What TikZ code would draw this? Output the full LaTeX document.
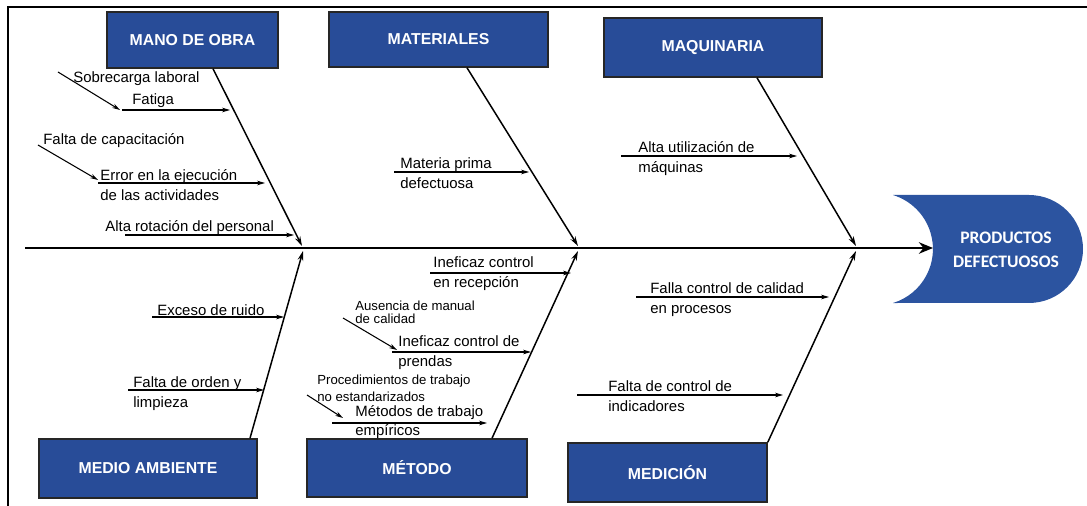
\documentclass[tikz,border=0pt]{standalone}
\usepackage{fontspec}
\setmainfont{Liberation Sans}
\newfontfamily\headfont{Carlito}
\usetikzlibrary{arrows.meta,calc}
\definecolor{catblue}{RGB}{40,76,152}
\definecolor{headblue}{RGB}{44,84,160}

\begin{document}
\begin{tikzpicture}[x=0.02cm,y=-0.02cm,
  catbox/.style={draw=black!85, line width=0.9pt, fill=catblue, text=white,
    font=\bfseries\fontsize{9}{11}\selectfont, inner sep=0pt},
  bone/.style={line width=0.85pt, -{Stealth[length=5.5pt,width=3.2pt]}},
  twig/.style={line width=0.6pt, -{Stealth[length=4.5pt,width=2.6pt]}},
  cause/.style={anchor=west, inner sep=0pt, align=left,
    font=\fontsize{8.5}{11.3}\selectfont},
  subcause/.style={anchor=west, inner sep=0pt, align=left,
    font=\fontsize{7.5}{7.6}\selectfont},
]
\useasboundingbox (0,0) rectangle (1087,506);

% frame
\draw[line width=1pt] (8,506) -- (8,7) -- (1087,7);

% head of the fish
\fill[headblue] (893,195) -- (1029,195) arc[start angle=90,end angle=-90,radius=1.08cm]
  -- (893,303) arc[start angle=-73,end angle=73,radius=1.129cm] -- cycle;
\node[font=\headfont\bfseries\fontsize{10}{13.5}\selectfont, text=white, align=center]
  (head) at (1006,250) {PRODUCTOS\\DEFECTUOSOS};

% spine
\coordinate (tail) at (25,248);
\coordinate (tip) at (933,248);
\draw[line width=1.7pt, -{Stealth[length=8pt,width=6.5pt]}] (tail) -- (tip);

% category boxes
\node[catbox, minimum width=3.42cm, minimum height=1.12cm] (mo)  at (192.5,40)  {MANO DE OBRA};
\node[catbox, minimum width=4.38cm, minimum height=1.10cm] (mat) at (438.5,39.5) {MATERIALES};
\node[catbox, minimum width=4.36cm, minimum height=1.18cm] (maq) at (713,47.5)  {MAQUINARIA};
\node[catbox, minimum width=4.36cm, minimum height=1.18cm] (ma)  at (148,468.5) {MEDIO AMBIENTE};
\node[catbox, minimum width=4.40cm, minimum height=1.16cm] (met) at (417,468)   {MÉTODO};
\node[catbox, minimum width=3.98cm, minimum height=1.18cm] (med) at (667.5,472.5) {MEDICIÓN};

% points where the bones meet the spine
\coordinate (moEnd)  at (302,246);
\coordinate (matEnd) at (578,246);
\coordinate (maqEnd) at (856,246);
\coordinate (maEnd)  at (303,251);
\coordinate (metEnd) at (578,251);
\coordinate (medEnd) at (856,251);

% bones
\draw[bone] ($(mo.south)+(20.5,0)$) -- (moEnd);
\draw[bone] ($(mat.south)+(28.5,0)$) -- (matEnd);
\draw[bone] ($(maq.south)+(44,0)$) -- (maqEnd);
\draw[bone] ($(ma.north)+(102,0)$) -- (maEnd);
\draw[bone] ($(met.north)+(75,0)$) -- (metEnd);
\draw[bone] (med.north east) -- (medEnd);

% Mano de obra
\node[cause] (c1) at (73,79) {Sobrecarga laboral};
\node[cause] (c2) at (132,101) {Fatiga};
\node[cause] (c3) at (43,141) {Falta de capacitación};
\node[cause] (c4) at (100,185.5) {Error en la ejecución\\de las actividades};
\node[cause] (c5) at (105,228) {Alta rotación del personal};
\coordinate (a1s) at (58,72);   \coordinate (a1e) at (120,110);
\coordinate (a2s) at (122,110); \coordinate (a2e) at (230,110);
\coordinate (a3s) at (38,145);  \coordinate (a3e) at (98,180);
\coordinate (a4s) at (98,183);  \coordinate (a4e) at (265,183);
\coordinate (a5s) at (125,235); \coordinate (a5e) at (294,235);
\draw[twig] (a1s) -- (a1e);
\draw[twig] (a2s) -- (a2e);
\draw[twig] (a3s) -- (a3e);
\draw[twig] (a4s) -- (a4e);
\draw[twig] (a5s) -- (a5e);

% Materiales
\node[cause] (c6) at (400,173) {Materia prima\\defectuosa};
\coordinate (a6s) at (394,172); \coordinate (a6e) at (529,172);
\draw[twig] (a6s) -- (a6e);

% Maquinaria
\node[cause] (c7) at (638,158.5) {Alta utilización de\\máquinas};
\coordinate (a7s) at (621,156); \coordinate (a7e) at (797,156);
\draw[twig] (a7s) -- (a7e);

% Medio ambiente
\node[cause] (c8) at (157,310) {Exceso de ruido};
\node[cause] (c9) at (133,394) {Falta de orden y\\limpieza};
\coordinate (a8s) at (152,317); \coordinate (a8e) at (284,317);
\coordinate (a9s) at (128,390); \coordinate (a9e) at (264,390);
\draw[twig] (a8s) -- (a8e);
\draw[twig] (a9s) -- (a9e);

% Método
\node[cause] (c10) at (433,273.5) {Ineficaz control\\en recepción};
\node[subcause] (c11) at (355,312.5) {Ausencia de manual\\de calidad};
\node[cause] (c12) at (398,353) {Ineficaz control de\\prendas};
\node[subcause, font=\fontsize{7.5}{9.6}\selectfont] (c13) at (317,388.5) {Procedimientos de trabajo\\no estandarizados};
\node[cause] (c14) at (355,422) {Métodos de trabajo\\empíricos};
\coordinate (a10s) at (430,273); \coordinate (a10e) at (571,273);
\coordinate (a11s) at (343,318); \coordinate (a11e) at (397,350);
\coordinate (a12s) at (392,352); \coordinate (a12e) at (531,352);
\coordinate (a13s) at (307,395); \coordinate (a13e) at (343,418);
\coordinate (a14s) at (332,423); \coordinate (a14e) at (487,423);
\draw[twig] (a10s) -- (a10e);
\draw[twig] (a11s) -- (a11e);
\draw[twig] (a12s) -- (a12e);
\draw[twig] (a13s) -- (a13e);
\draw[twig] (a14s) -- (a14e);

% Medición
\node[cause] (c15) at (650,300) {Falla control de calidad\\en procesos};
\node[cause] (c16) at (608,396.5) {Falta de control de\\indicadores};
\coordinate (a15s) at (636,297); \coordinate (a15e) at (829,297);
\coordinate (a16s) at (577,395); \coordinate (a16e) at (783,395);
\draw[twig] (a15s) -- (a15e);
\draw[twig] (a16s) -- (a16e);
\end{tikzpicture}
\end{document}
